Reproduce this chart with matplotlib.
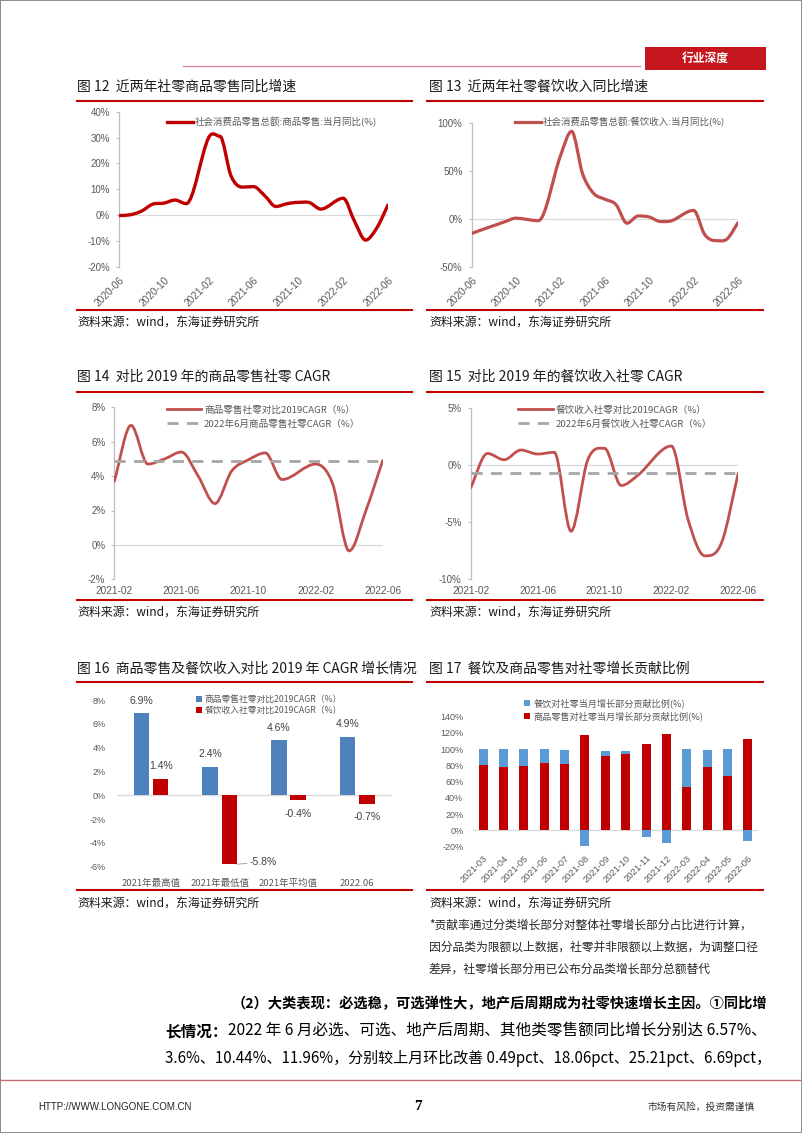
import numpy as np
import matplotlib
matplotlib.use('Agg')
import matplotlib.pyplot as plt
from matplotlib.path import Path
from matplotlib.patches import PathPatch, Rectangle
from matplotlib.lines import Line2D
from matplotlib.transforms import Bbox, TransformedBbox

plt.rcParams['font.family'] = ['Noto Sans CJK SC', 'DejaVu Sans']

W, H = 802, 1133
NUM = ['Liberation Sans', 'Noto Sans CJK SC']
GRAY_TXT = '#595959'

# ---- data ----
# 图12 / 图13 : 当月同比 (%), 2020-06 .. 2022-06 (1月无数据)
months_yoy = ['2020-06', '2020-07', '2020-08', '2020-09', '2020-10', '2020-11', '2020-12',
              '2021-02', '2021-03', '2021-04', '2021-05', '2021-06', '2021-07', '2021-08',
              '2021-09', '2021-10', '2021-11', '2021-12', '2022-02', '2022-03', '2022-04',
              '2022-05', '2022-06']
goods_yoy = [-0.2, 0.1, 1.5, 4.2, 4.6, 5.8, 4.4, 30.0, 30.5, 15.1, 10.8, 11.0, 7.5, 3.3,
             4.4, 4.9, 4.8, 2.3, 6.5, -2.3, -9.7, -5.0, 3.9]
food_yoy = [-15.2, -11.0, -7.0, -2.9, 0.8, -0.6, -1.9, 66.0, 91.6, 47.0, 26.6, 20.6, 15.0, -4.5,
            3.1, 2.0, -2.7, -2.0, 8.9, -16.4, -22.7, -21.1, -4.0]
ticks_yoy = ['2020-06', '2020-10', '2021-02', '2021-06', '2021-10', '2022-02', '2022-06']

# 图14 / 图15 : 对比2019年CAGR (%)
months_cagr = ['2021-02', '2021-03', '2021-04', '2021-05', '2021-06', '2021-07', '2021-08',
               '2021-09', '2021-10', '2021-11', '2021-12', '2022-02', '2022-03', '2022-04',
               '2022-05', '2022-06']
goods_cagr = [3.7, 6.95, 4.7, 5.0, 5.4, 4.0, 2.4, 4.3, 4.95, 5.35, 3.8, 4.7, 3.6, -0.35, 2.0, 4.9]
food_cagr = [-2.0, 1.0, 0.45, 1.3, 0.95, 1.1, -5.8, 0.45, 1.45, -1.8, -0.9, 1.65, -4.8, -7.95, -6.8, -0.7]
goods_cagr_2206 = 4.9
food_cagr_2206 = -0.7
ticks_cagr = ['2021-02', '2021-06', '2021-10', '2022-02', '2022-06']

# 图16
cats16 = ['2021年最高值', '2021年最低值', '2021年平均值', '2022.06']
goods16 = [6.9, 2.4, 4.6, 4.9]
food16 = [1.4, -5.8, -0.4, -0.7]

# 图17 贡献比例 (%)
months17 = ['2021-03', '2021-04', '2021-05', '2021-06', '2021-07', '2021-08', '2021-09',
            '2021-10', '2021-11', '2021-12', '2022-03', '2022-04', '2022-05', '2022-06']
goods17 = [80.4, 77.6, 79.2, 83.3, 81.6, 117.1, 91.4, 93.9, 106.9, 118.4, 53.9, 77.6, 66.5, 112.2]
food17 = [19.6, 22.4, 20.8, 16.7, 18.0, -18.8, 7.0, 4.5, -7.8, -15.5, 46.1, 21.3, 33.5, -13.2]


fig = plt.figure(figsize=(W / 100, H / 100), dpi=100)
fig.patch.set_edgecolor('#8c8c8c')
fig.patch.set_linewidth(1.2)


def fx(x):
    return x / W


def fy(y):
    return 1 - y / H


def rect(x0, y0, x1, y1):
    return [fx(x0), fy(y1), (x1 - x0) / W, (y1 - y0) / H]


def hline(x0, x1, y, color='#c00000', lw=1.5):
    fig.add_artist(Line2D([fx(x0), fx(x1)], [fy(y), fy(y)], color=color, lw=lw))


def ftext(x, y, s, **kw):
    kw.setdefault('va', 'center')
    return fig.text(fx(x), fy(y), s, **kw)


def midx(s):
    y, m = s.split('-')
    return int(y) * 12 + int(m) - 1


def month_pos(labels, start):
    return np.array([midx(s) - midx(start) for s in labels], dtype=float)


def smooth_path(x, y):
    # 平滑线：三次贝塞尔，极值点切线为0
    x = np.asarray(x, float)
    y = np.asarray(y, float)
    n = len(x)
    h = np.diff(x)
    d = np.diff(y) / h
    m = np.zeros(n)
    for i in range(1, n - 1):
        if d[i - 1] * d[i] > 0:
            m[i] = (y[i + 1] - y[i - 1]) / (x[i + 1] - x[i - 1])
    m[0] = d[0]
    m[-1] = d[-1]
    verts = [(x[0], y[0])]
    codes = [Path.MOVETO]
    for i in range(n - 1):
        verts += [(x[i] + h[i] / 3, y[i] + m[i] * h[i] / 3),
                  (x[i + 1] - h[i] / 3, y[i + 1] - m[i + 1] * h[i] / 3),
                  (x[i + 1], y[i + 1])]
        codes += [Path.CURVE4] * 3
    return Path(verts, codes)


def line_axes(box, ylim, step, xmax):
    ax = fig.add_axes(rect(*box))
    ax.patch.set_alpha(0)
    ax.set_xlim(0, xmax)
    ax.set_ylim(*ylim)
    yt = np.arange(ylim[0], ylim[1] + step / 2, step)
    ax.set_yticks(yt, labels=[f'{v:.0f}%' for v in yt], fontfamily=NUM)
    for s in ['top', 'right', 'bottom']:
        ax.spines[s].set_visible(False)
    ax.spines['left'].set_color('#bfbfbf')
    ax.spines['left'].set_linewidth(0.9)
    ax.tick_params(axis='y', length=2.5, color='#bfbfbf', labelsize=7, labelcolor=GRAY_TXT, pad=4)
    ax.tick_params(axis='x', length=0, labelsize=7.3, labelcolor=GRAY_TXT)
    ax.axhline(0, color='#d9d9d9', lw=0.9, zorder=1)
    return ax


def draw_smooth(ax, x, y, color, lw):
    ax.add_patch(PathPatch(smooth_path(x, y), fill=False, edgecolor=color, lw=lw,
                           capstyle='round', joinstyle='round', zorder=3))


def legend_at(ax, handles, labels, x, y, **kw):
    opts = dict(loc='center left', bbox_to_anchor=(fx(x), fy(y)), bbox_transform=fig.transFigure,
                frameon=False, borderpad=0, borderaxespad=0, labelcolor=GRAY_TXT)
    opts.update(kw)
    return ax.legend(handles, labels, **opts)


# ---- header / footer ----
hline(183, 640, 66, color='#d48a98', lw=1.0)
fig.add_artist(Rectangle((fx(645), fy(70)), 121 / W, 23 / H, transform=fig.transFigure,
                         facecolor='#c4161c', edgecolor='none'))
ftext(705.5, 58.5, '行业深度', ha='center', color='white', fontsize=8.5, fontweight='bold')

hline(0, 802, 1080, color='#c46a76', lw=1.0)
ftext(38, 1107, 'HTTP://WWW.LONGONE.COM.CN', fontsize=7, family='Liberation Sans', color='#222222')
ftext(418, 1106, '7', ha='center', fontsize=11, family='Liberation Serif', fontweight='bold')
ftext(755, 1107, '市场有风险，投资需谨慎', ha='right', fontsize=7, color='#333333')

# ---- titles / rules / sources ----
titles = [(77, 87, '图 12  近两年社零商品零售同比增速'), (429, 87, '图 13  近两年社零餐饮收入同比增速'),
          (77, 377, '图 14  对比 2019 年的商品零售社零 CAGR'), (429, 377, '图 15  对比 2019 年的餐饮收入社零 CAGR'),
          (77, 669, '图 16  商品零售及餐饮收入对比 2019 年 CAGR 增长情况'),
          (429, 669, '图 17  餐饮及商品零售对社零增长贡献比例')]
for x, y, s in titles:
    ftext(x, y, s, fontsize=10, color='#1a1a1a')
for y in [100.7, 391.7, 682]:
    hline(77, 412, y)
    hline(427, 763, y)
for y_rule, y_src in [(310, 322), (600, 612), (890, 903)]:
    hline(77, 412, y_rule)
    hline(427, 763, y_rule)
    ftext(77, y_src, '资料来源：wind，东海证券研究所', fontsize=8.6, color='#1a1a1a')
    ftext(429, y_src, '资料来源：wind，东海证券研究所', fontsize=8.6, color='#1a1a1a')

notes = ['*贡献率通过分类增长部分对整体社零增长部分占比进行计算，',
         '因分品类为限额以上数据，社零并非限额以上数据，为调整口径',
         '差异，社零增长部分用已公布分品类增长部分总额替代']
for i, s in enumerate(notes):
    ftext(429, 925 + 22 * i, s, fontsize=8.5, color='#262626')

# ---- 图12 ----
x_yoy = month_pos(months_yoy, months_yoy[0])
ax12 = line_axes((119, 111.7, 388, 266.7), (-20, 40), 10, x_yoy[-1])
draw_smooth(ax12, x_yoy, goods_yoy, '#c00000', 2.4)
ax12.set_xticks(month_pos(ticks_yoy, months_yoy[0]), labels=ticks_yoy, rotation=45, ha='right',
                va='top', rotation_mode='anchor', fontfamily=NUM)
ax12.tick_params(axis='x', pad=6)
legend_at(ax12, [Line2D([], [], color='#c00000', lw=2.4)], ['社会消费品零售总额:商品零售:当月同比(%)'],
          167, 121.7, fontsize=6.8, handlelength=2.75, handletextpad=0.15)

# ---- 图13 ----
ax13 = line_axes((471.7, 123.3, 738, 266.7), (-50, 100), 50, x_yoy[-1])
draw_smooth(ax13, x_yoy, food_yoy, '#c0504d', 2.3)
ax13.set_xticks(month_pos(ticks_yoy, months_yoy[0]), labels=ticks_yoy, rotation=45, ha='right',
                va='top', rotation_mode='anchor', fontfamily=NUM)
ax13.tick_params(axis='x', pad=6)
legend_at(ax13, [Line2D([], [], color='#c0504d', lw=2.3)], ['社会消费品零售总额:餐饮收入:当月同比(%)'],
          515, 122, fontsize=6.8, handlelength=2.75, handletextpad=0.15)

# ---- 图14 / 图15 ----
x_cagr = month_pos(months_cagr, months_cagr[0])
for box, ylim, step, vals, ref, lab1, lab2, lx in [
        ((114.3, 407.3, 382.7, 579.3), (-2, 8), 2, goods_cagr, goods_cagr_2206,
         '商品零售社零对比2019CAGR（%）', '2022年6月商品零售社零CAGR（%）', 166.7),
        ((470.7, 407.7, 738.3, 579.3), (-10, 5), 5, food_cagr, food_cagr_2206,
         '餐饮收入社零对比2019CAGR（%）', '2022年6月餐饮收入社零CAGR（%）', 518)]:
    ax = line_axes(box, ylim, step, x_cagr[-1])
    draw_smooth(ax, x_cagr, vals, '#c0504d', 2.0)
    ax.plot([x_cagr[0], x_cagr[-1]], [ref, ref], color='#a6a6a6', lw=2.0, dashes=(4, 3), zorder=4)
    ax.set_xticks(month_pos(ticks_cagr, months_cagr[0]), labels=ticks_cagr, fontfamily=NUM)
    ax.tick_params(axis='x', pad=5)
    legend_at(ax, [Line2D([], [], color='#c0504d', lw=2.0),
                   Line2D([], [], color='#a6a6a6', lw=2.0, dashes=(4, 3))],
              [lab1, lab2], lx, 417, fontsize=6.9, handlelength=3.6, handletextpad=0.3,
              labelspacing=0.5)
    ax15 = ax
# 图15末尾标签被图表区裁切
last = ax15.get_xticklabels()[-1]
last.set_clip_box(TransformedBbox(Bbox([[0, 0], [fx(756), 1]]), fig.transFigure))
last.set_clip_on(True)

# ---- 图16 ----
ax16 = fig.add_axes(rect(116.7, 700, 391.7, 866.7))
ax16.patch.set_alpha(0)
idx = np.arange(len(cats16))
b1 = ax16.bar(idx - 0.14, goods16, width=0.225, color='#4f81bd', zorder=3)
b2 = ax16.bar(idx + 0.14, food16, width=0.225, color='#c00000', zorder=3)
ax16.set_xlim(-0.5, len(cats16) - 0.5)
ax16.set_ylim(-6, 8)
yt = np.arange(-6, 9, 2)
ax16.set_yticks(yt, labels=[f'{v:.0f}%' for v in yt], fontfamily=NUM)
ax16.set_xticks(idx, labels=cats16)
for s in ax16.spines.values():
    s.set_visible(False)
ax16.axhline(0, color='#d9d9d9', lw=0.9, zorder=1)
ax16.tick_params(axis='y', length=0, labelsize=6.5, labelcolor=GRAY_TXT, pad=8)
ax16.tick_params(axis='x', length=0, labelsize=6.8, labelcolor=GRAY_TXT, pad=9)
for i, v in enumerate(goods16):
    ax16.annotate(f'{v:.1f}%', (idx[i] - 0.14, v), xytext=(0, 9), textcoords='offset points',
                  ha='center', va='center', fontsize=7.5, color='#404040', family=NUM)
for i, v in enumerate(food16):
    if v >= 0:
        ax16.annotate(f'{v:.1f}%', (idx[i] + 0.14, v), xytext=(0, 9), textcoords='offset points',
                      ha='center', va='center', fontsize=7.5, color='#404040', family=NUM)
    elif v < -3:
        ax16.annotate(f'{v:.1f}%', (idx[i] + 0.14 + 0.1125, v), xytext=(9, 2), textcoords='offset points',
                      ha='left', va='center', fontsize=7.5, color='#404040', family=NUM,
                      arrowprops=dict(arrowstyle='-', color='#a6a6a6', lw=0.7, shrinkA=0, shrinkB=0))
    else:
        ax16.annotate(f'{v:.1f}%', (idx[i] + 0.14, v), xytext=(0, -10), textcoords='offset points',
                      ha='center', va='center', fontsize=7.5, color='#404040', family=NUM)
legend_at(ax16, [b1, b2], ['商品零售社零对比2019CAGR（%）', '餐饮收入社零对比2019CAGR（%）'],
          196, 705, fontsize=6.3, handlelength=0.7, handleheight=0.7, handletextpad=0.3,
          labelspacing=0.3)

# ---- 图17 ----
ax17 = fig.add_axes(rect(473, 716.7, 758, 846.7))
ax17.patch.set_alpha(0)
i17 = np.arange(len(months17))
food_bottom = [g if f >= 0 else 0 for g, f in zip(goods17, food17)]
r17 = ax17.bar(i17, goods17, width=0.44, color='#c00000', zorder=3)
bl17 = ax17.bar(i17, food17, width=0.44, bottom=food_bottom, color='#5b9bd5', zorder=3)
ax17.set_xlim(-0.5, len(months17) - 0.5)
ax17.set_ylim(-20, 140)
yt = np.arange(-20, 141, 20)
ax17.set_yticks(yt, labels=[f'{v:.0f}%' for v in yt], fontfamily=NUM)
ax17.set_xticks(i17, labels=months17, rotation=45, ha='right', va='top', rotation_mode='anchor',
                fontfamily=NUM)
for s in ax17.spines.values():
    s.set_visible(False)
ax17.axhline(0, color='#d9d9d9', lw=0.9, zorder=1)
ax17.tick_params(axis='y', length=0, labelsize=6.5, labelcolor=GRAY_TXT, pad=7)
ax17.tick_params(axis='x', length=0, labelsize=6.7, labelcolor=GRAY_TXT, pad=5)
legend_at(ax17, [bl17, r17], ['餐饮对社零当月增长部分贡献比例(%)', '商品零售对社零当月增长部分贡献比例(%)'],
          524, 710, fontsize=6.6, handlelength=0.7, handleheight=0.7, handletextpad=0.3,
          labelspacing=0.35)

# ---- 正文 (按参考的行宽调整字号) ----
renderer = fig.canvas.get_renderer()


def fit_line(parts, x0, x1, y, size=11):
    # parts: [(text, weight), ...] 依次排在同一行
    def place(sz):
        arts = []
        x = fx(x0)
        for s, wgt in parts:
            t = fig.text(x, fy(y), s, fontsize=sz, fontweight=wgt, va='center')
            x = t.get_window_extent(renderer).x1 / W
            arts.append(t)
        return arts, x * W
    arts, end = place(size)
    for t in arts:
        t.remove()
    place(size * (x1 - x0) / (end - x0))


fit_line([('（2）大类表现：必选稳，可选弹性大，地产后周期成为社零快速增长主因。①同比增', 'bold')],
         232, 765, 1004)
fit_line([('长情况：', 'bold'), ('2022 年 6 月必选、可选、地产后周期、其他类零售额同比增长分别达 6.57%、', 'normal')],
         165, 765, 1031)
fit_line([('3.6%、10.44%、11.96%，分别较上月环比改善 0.49pct、18.06pct、25.21pct、6.69pct，', 'normal')],
         165, 771, 1058)

fig.savefig('out.png', dpi=100)
